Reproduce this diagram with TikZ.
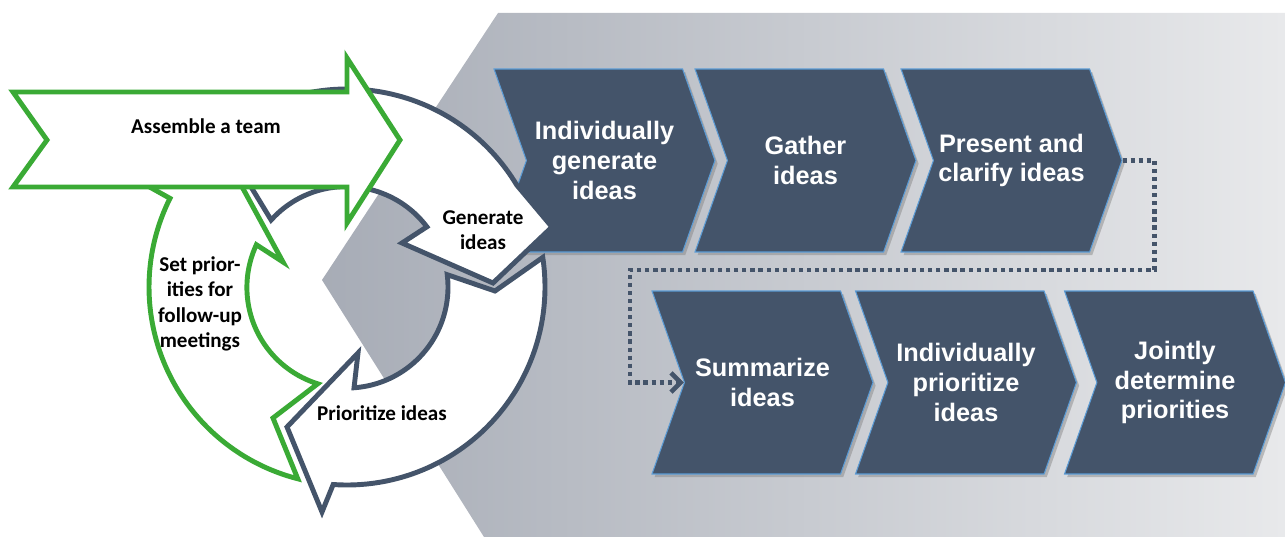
\documentclass[tikz,border=0pt]{standalone}
\usepackage{fontspec}
\setmainfont{Liberation Sans}
\newfontfamily\calfont{Carlito}
\usetikzlibrary{shapes.symbols,shadows,arrows.meta}

\definecolor{slate}{HTML}{44546A}
\definecolor{edgeblue}{HTML}{5B9BD5}
\definecolor{leafgreen}{HTML}{3AAA35}
\definecolor{greyL}{HTML}{A7ACB6}
\definecolor{greyR}{HTML}{E8E9EB}

\tikzset{
  stepchev/.style={signal, signal from=west, signal to=east, signal pointer angle=141,
    fill=slate, draw=edgeblue, line width=0.6pt, minimum width=4.42cm, minimum height=3.66cm,
    inner sep=0pt, text=white, align=center, font=\bfseries\fontsize{14.4}{17}\selectfont,
    drop shadow={shadow xshift=1.5pt, shadow yshift=-1.8pt, opacity=0.45}},
  cyc/.style={fill=white, draw=slate, line width=2.8pt},
  cycgreen/.style={fill=white, draw=leafgreen, line width=2.8pt},
  cyctext/.style={font=\calfont\bfseries\fontsize{12}{14.5}\selectfont, align=center},
  dots/.style={draw=slate, line width=2.6pt, dash pattern=on 2.4pt off 2.2pt,
    -{Straight Barb[length=5.5pt,width=11pt]}}
}

\begin{document}
\begin{tikzpicture}[x=0.02cm, y=-0.02cm]
  \useasboundingbox (0,0) rectangle (1285,537);
  % backdrop
  \shade[left color=greyL, right color=greyR]
    (498,13) -- (322,280) -- (484,537) -- (1285,537) -- (1285,13) -- cycle;
  % steps, first row
  \node[stepchev] (c1) at (604.5,160.5) {Individually\\generate\\ideas};
  \node[stepchev] (c2) at (805.5,160.5) {Gather\\ideas};
  \node[stepchev] (c3) at (1011.5,160.5) {Present and\\clarify ideas};
  % steps, second row
  \node[stepchev] (c4) at (762.5,382.5) {Summarize\\ideas};
  \node[stepchev] (c5) at (966,382.5) {Individually\\prioritize\\ideas};
  \node[stepchev] (c6) at (1175,382.5) {Jointly\\determine\\priorities};
  \draw[dots] (c3.east) -- ++(32,0) |- (630,270) |- (c4.west);
  % cycle
  \begin{scope}[shift={(347,287)}]
    % prioritize
    \draw[cyc] (-8.6:198) arc[start angle=-8.6, end angle=94, radius=198]
      -- (-25,225) -- (-60,140) -- (11,66) -- (86:101)
      arc[start angle=86, end angle=-7, radius=101] -- (148,4) -- cycle;
    % generate
    \draw[cyc] (-138:198) arc[start angle=-138, end angle=-31, radius=198]
      -- (205,-60) -- (146,-4) -- (55,-44) -- (-37:100)
      arc[start angle=-37, end angle=-138, radius=101] -- (-102,-110) -- cycle;
    % set priorities
    \draw[cycgreen] (104.4:198) arc[start angle=104.4, end angle=206.6, radius=198]
      -- (-201,-102) -- (-106.5,-103) -- (-64,-25) -- (205:100)
      arc[start angle=205, end angle=107.4, radius=101] -- (-74,131) -- cycle;
  \end{scope}
  % assemble
  \draw[cycgreen] (13,92) -- (347,92) -- (347,58) -- (400,140) -- (347,223)
    -- (347,187) -- (13,187) -- (47,140) -- cycle;
  \node[cyctext] (team) at (206,126) {Assemble a team};
  \node[cyctext] (gen) at (483,230) {Generate\\ideas};
  \node[cyctext] (prio) at (382,413) {Prioritize ideas};
  \node[cyctext] (setp) at (200,304) {Set prior-\\ities for\\follow-up\\meetings};
\end{tikzpicture}
\end{document}
